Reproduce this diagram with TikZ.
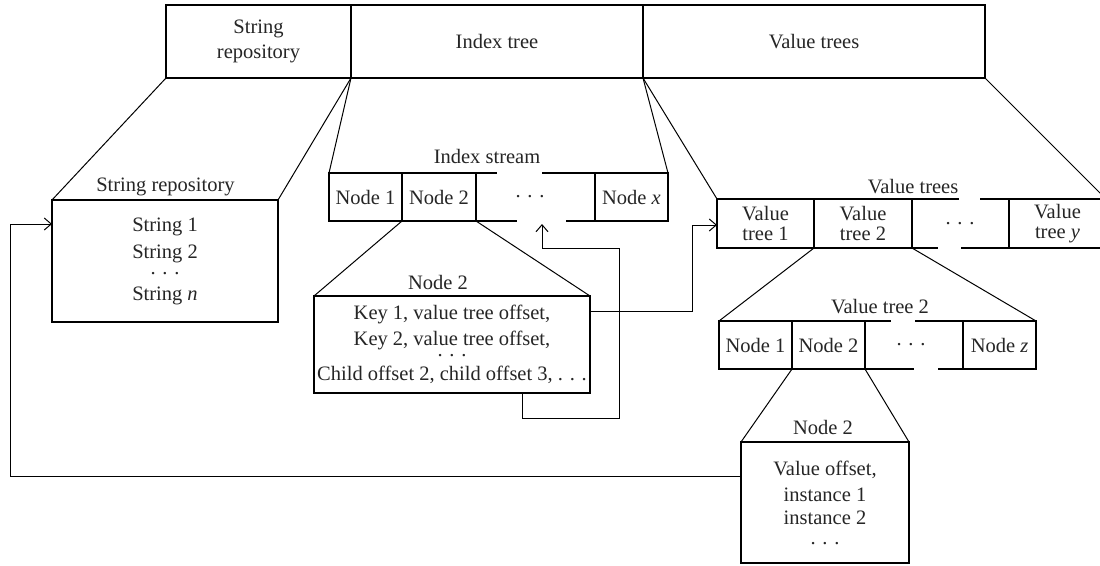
\documentclass[tikz,border=0pt]{standalone}
\usepackage{fontspec}
\setmainfont{Liberation Serif}
\usetikzlibrary{arrows.meta,calc}

\newcommand\dgmfont{\fontsize{20.5}{26}\selectfont}
\newcommand\dgmtight{\fontsize{20.5}{20.5}\selectfont}
\newcommand\dgmmid{\fontsize{20.5}{25}\selectfont}
% widely spaced ellipsis
\newcommand\sdots{.\kern0.33em.\kern0.33em.}

\begin{document}
\begin{tikzpicture}[x=1pt,y=-1pt,line width=1.1pt,
  cell/.style={draw,rectangle,inner sep=0pt,outer sep=0pt,align=center,font=\dgmfont,text=black!85},
  blank/.style={rectangle,inner sep=0pt,outer sep=0pt,align=center,font=\dgmfont,text=black!85},
  lbl/.style={inner sep=0pt,anchor=base,font=\dgmfont,text=black!85},
  fan/.style={line width=1pt},
  arr/.style={line width=1pt,-{Straight Barb[length=7pt,width=12pt]}}]

\useasboundingbox (0,0) rectangle (1100,565);
\fill[white] (0,0) rectangle (1100,565);
\clip (0,0) rectangle (1100,565);

% file layout bar
\node[cell,font=\dgmmid,minimum width=185,minimum height=73] (tsr) at (258.5,41.5) {String\\repository};
\node[cell,minimum width=292,minimum height=73] (tit) at (497,41.5) {Index tree};
\node[cell,minimum width=342,minimum height=73] (tvt) at (814,41.5) {Value trees};

% string repository
\node[cell,minimum width=226,minimum height=122] (srb) at (165,261)
  {String 1\\[1pt]String 2\\[-10pt]\sdots\\[0pt]String \textit{n}};
\node[lbl] (srlbl) at (165.5,191) {String repository};

% index stream
\node[lbl] (islbl) at (487,163) {Index stream};
\node[cell,minimum width=73,minimum height=48] (is1) at (365.5,197) {Node 1};
\node[cell,minimum width=74,minimum height=48] (is2) at (439,197) {Node 2};
\node[blank,minimum width=119,minimum height=48] (isd) at (530.5,197) {};
\node[blank] (isdots) at (530,197) {\sdots};
\node[cell,minimum width=73,minimum height=48] (isx) at (631.5,197) {Node \textit{x}};
\draw (isd.north west) -- +(26,0);
\draw (isd.north west) ++(71,0) -- (isx.north west);
\draw (isd.south west) -- +(46,0);
\draw (isd.south west) ++(95,0) -- (isx.south west);

% index node detail
\node[lbl] (inlbl) at (438,289) {Node 2};
\node[cell,minimum width=276,minimum height=97] (inb) at (452,344.5)
  {Key 1, value tree offset,\\Key 2, value tree offset,\\[-15pt]\sdots\\[-2pt]Child offset 2, child offset 3, \sdots};

% value trees
\node[lbl] (vtlbl) at (913,193) {Value trees};
\node[cell,font=\dgmtight,minimum width=97,minimum height=49] (vt1) at (765.5,223.5) {Value\\tree 1};
\node[cell,font=\dgmtight,minimum width=98,minimum height=49] (vt2) at (863,223.5) {Value\\tree 2};
\node[blank,minimum width=97,minimum height=49] (vtd) at (960.5,223.5) {};
\node[blank] (vtdots) at (960,223.5) {\sdots};
\node[cell,font=\dgmtight,minimum width=97,minimum height=49] (vty) at (1057.5,223.5) {Value\\tree \textit{y}};
\draw (vtd.north west) -- +(47,0);
\draw (vtd.north west) ++(68,0) -- (vty.north west);
\draw (vtd.south west) -- +(26,0);
\draw (vtd.south west) ++(49,0) -- (vty.south west);

% value tree 2 detail
\node[lbl] (vt2lbl) at (880,313) {Value tree 2};
\node[cell,minimum width=73,minimum height=48] (vn1) at (755.5,345) {Node 1};
\node[cell,minimum width=73,minimum height=48] (vn2) at (828.5,345) {Node 2};
\node[blank,minimum width=98,minimum height=48] (vnd) at (914,345) {};
\node[blank] (vndots) at (911,345) {\sdots};
\node[cell,minimum width=73,minimum height=48] (vnz) at (999.5,345) {Node \textit{z}};
\draw (vnd.north west) -- +(26,0);
\draw (vnd.north west) ++(50,0) -- (vnz.north west);
\draw (vnd.south west) -- +(49,0);
\draw (vnd.south west) ++(73,0) -- (vnz.south west);

% value node detail
\node[lbl] (vnlbl) at (823,434) {Node 2};
\node[cell,minimum width=168,minimum height=121] (vnb) at (825,502.5)
  {Value offset,\\instance 1\\[-3pt]instance 2\\[-6pt]\sdots};

% expansion lines
\draw[fan] (tsr.south west) -- (srb.north west);
\draw[fan] (tsr.south east) -- (srb.north east);
\draw[fan] (tit.south west) -- (is1.north west);
\draw[fan] (tit.south east) -- (isx.north east);
\draw[fan] (tvt.south west) -- (vt1.north west);
\draw[fan] (tvt.south east) -- (vty.north east);
\draw[fan] (is2.south west) -- (inb.north west);
\draw[fan] (is2.south east) -- (inb.north east);
\draw[fan] (vt2.south west) -- (vn1.north west);
\draw[fan] (vt2.south east) -- (vnz.north east);
\draw[fan] (vn2.south west) -- (vnb.north west);
\draw[fan] (vn2.south east) -- (vnb.north east);

% references between structures
\coordinate (leftrail) at (10,0);
\coordinate (midrail) at (692,0);
\coordinate (vnbout) at ($(vnb.north west)+(0,34)$);
\coordinate (srbin) at ($(srb.north west)+(0,24)$);
\coordinate (inbout) at ($(inb.north east)+(0,15)$);
\coordinate (vtin) at ($(vt1.north west)+(0,26)$);
\coordinate (loopstart) at ($(inb.south east)+(-68,0)$);
\coordinate (loopBR) at (619,418);
\coordinate (loopTR) at (619,248);
\coordinate (dotsin) at ($(isd.south west)+(71,3)$);

\draw[arr] (vnbout) -| (leftrail |- srbin) -- (srbin);
\draw[arr] (inbout) -| (midrail |- vtin) -- (vtin);
\draw[arr] (loopstart) |- (loopBR) -- (loopTR) -| (dotsin);
\end{tikzpicture}
\end{document}
